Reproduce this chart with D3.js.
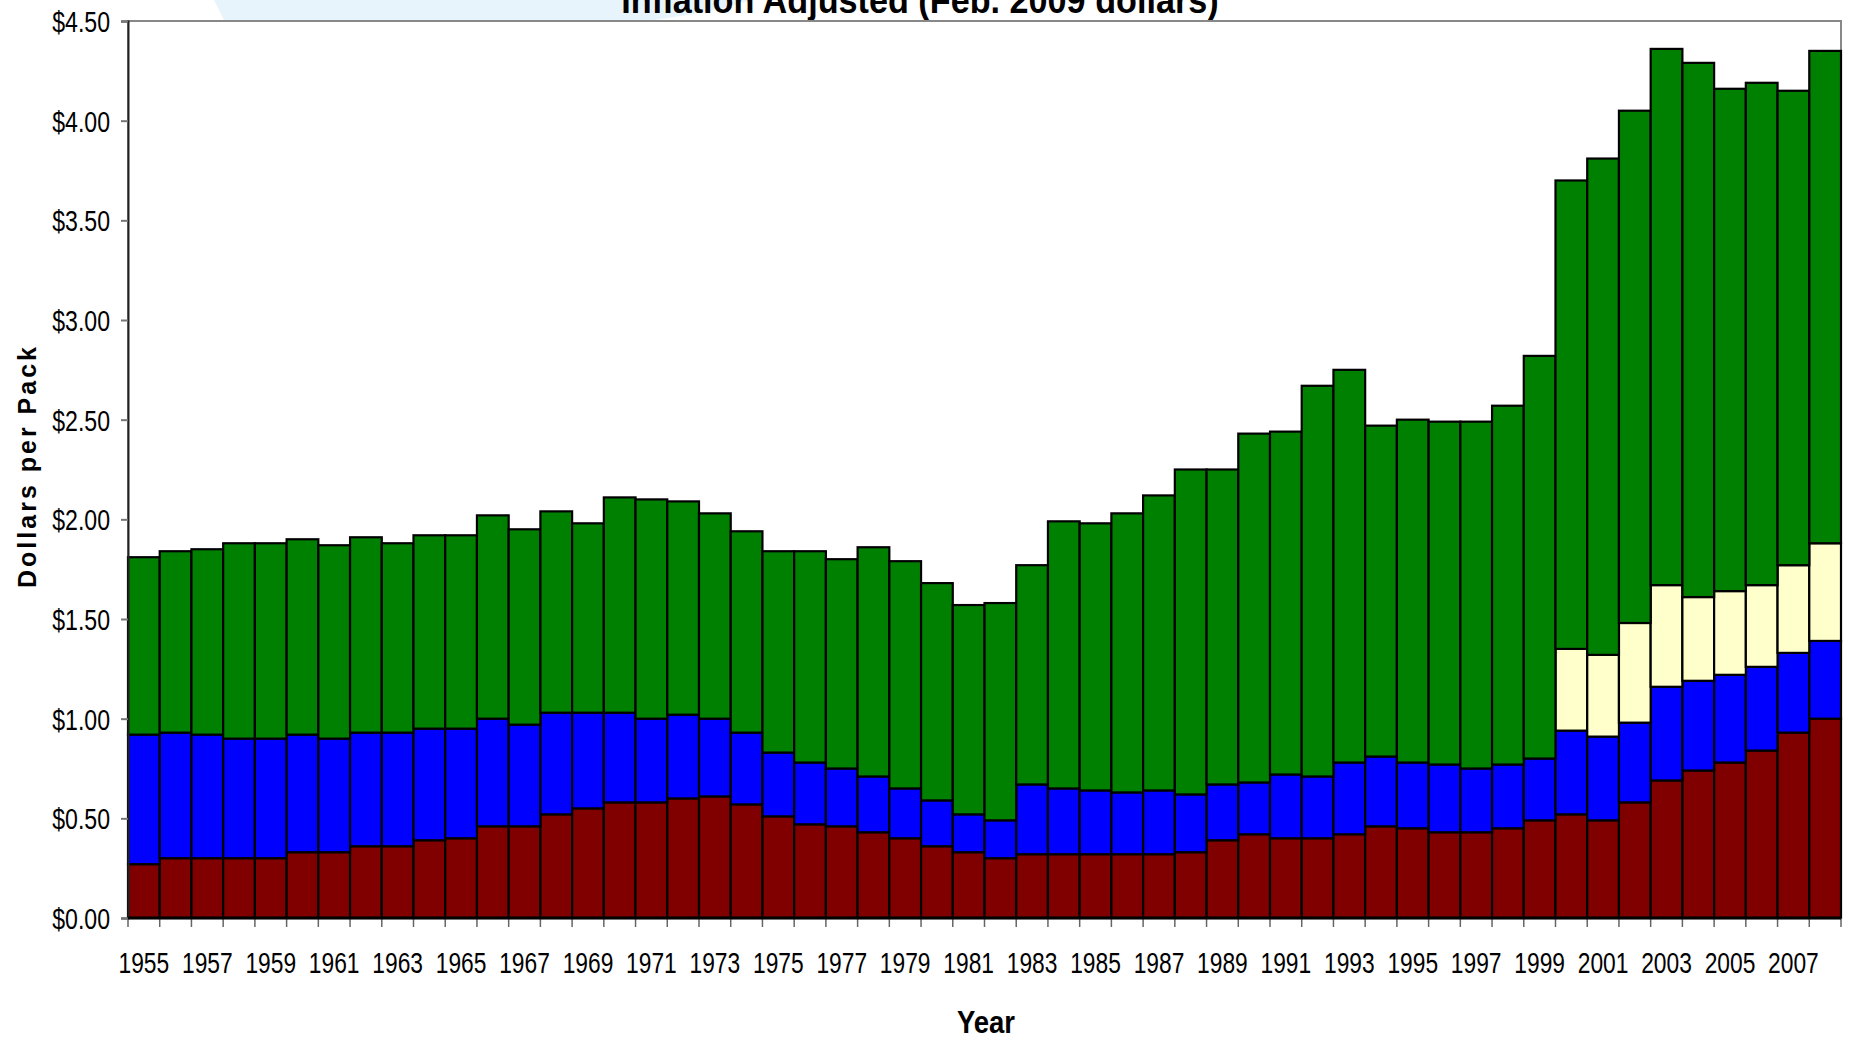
<!DOCTYPE html>
<html>
<head>
  <meta charset="UTF-8">
  <title>Cigarette price per pack</title>
  <style>
    body { margin: 0; background: #fff; }
    svg { display: block; }
    text { font-family: "Liberation Sans", Arial, sans-serif; }
  </style>
</head>
<body>
<svg></svg>
<script src="https://d3js.org/d3.v7.min.js"></script>
<script>
    let width = 1853, height = 1040;

    // years on the x axis
    var years = d3.range(1955, 2009);
    var labelYears = years.filter(function (d) { return d % 2 == 1 && d < 2008; });
    var yTicks = [0, 0.5, 1, 1.5, 2, 2.5, 3, 3.5, 4, 4.5];

    // dollars per pack, Feb. 2009 dollars (bottom to top)
    var stateTax = [0.27, 0.30, 0.30, 0.30, 0.30, 0.33, 0.33, 0.36, 0.36, 0.39,
                    0.40, 0.46, 0.46, 0.52, 0.55, 0.58, 0.58, 0.60, 0.61, 0.57,
                    0.51, 0.47, 0.46, 0.43, 0.40, 0.36, 0.33, 0.30, 0.32, 0.32,
                    0.32, 0.32, 0.32, 0.33, 0.39, 0.42, 0.40, 0.40, 0.42, 0.46,
                    0.45, 0.43, 0.43, 0.45, 0.49, 0.52, 0.49, 0.58, 0.69, 0.74,
                    0.78, 0.84, 0.93, 1.00];
    var federalTax = [0.65, 0.63, 0.62, 0.60, 0.60, 0.59, 0.57, 0.57, 0.57, 0.56,
                      0.55, 0.54, 0.51, 0.51, 0.48, 0.45, 0.42, 0.42, 0.39, 0.36,
                      0.32, 0.31, 0.29, 0.28, 0.25, 0.23, 0.19, 0.19, 0.35, 0.33,
                      0.32, 0.31, 0.32, 0.29, 0.28, 0.26, 0.32, 0.31, 0.36, 0.35,
                      0.33, 0.34, 0.32, 0.32, 0.31, 0.42, 0.42, 0.40, 0.47, 0.45,
                      0.44, 0.42, 0.40, 0.39];
    var msaPayments = [0, 0, 0, 0, 0, 0, 0, 0, 0, 0,
                       0, 0, 0, 0, 0, 0, 0, 0, 0, 0,
                       0, 0, 0, 0, 0, 0, 0, 0, 0, 0,
                       0, 0, 0, 0, 0, 0, 0, 0, 0, 0,
                       0, 0, 0, 0, 0, 0.41, 0.41, 0.50, 0.51, 0.42,
                       0.42, 0.41, 0.44, 0.49];
    var industryPrice = [0.89, 0.91, 0.93, 0.98, 0.98, 0.98, 0.97, 0.98, 0.95, 0.97,
                         0.97, 1.02, 0.98, 1.01, 0.95, 1.08, 1.10, 1.07, 1.03, 1.01,
                         1.01, 1.06, 1.05, 1.15, 1.14, 1.09, 1.05, 1.09, 1.10, 1.34,
                         1.34, 1.40, 1.48, 1.63, 1.58, 1.75, 1.72, 1.96, 1.97, 1.66,
                         1.72, 1.72, 1.74, 1.80, 2.02, 2.35, 2.49, 2.57, 2.69, 2.68,
                         2.52, 2.52, 2.38, 2.47];

    var keys = ["state", "federal", "msa", "industry"];
    var colors = { state: "#800000", federal: "#0000ff", msa: "#ffffcc", industry: "#008000" };

    var table = years.map(function (yr, i) {
        return { year: yr, state: stateTax[i], federal: federalTax[i], msa: msaPayments[i], industry: industryPrice[i] };
    });

    let svg = d3.select("svg")
        .attr("width", width)
        .attr("height", height);

    // plot box (note: "top" is reserved on window, so use other names)
    var plotL = 128, plotR = 1841, plotT = 21, plotB = 918;

    var x = d3.scaleBand().domain(years).range([plotL, plotR]).padding(0);
    var y = d3.scaleLinear().domain([0, 4.5]).range([plotB, plotT]);

    // light blue shape peeking out behind the title
    svg.append("path")
        .attr("d", "M214,0 L226,24 L610,24 C670,20 720,10 752,0 Z")
        .attr("fill", "#e8f4fc");

    // title (cut off at top of picture)
    svg.append("text")
        .attr("transform", "translate(920,13) scale(0.95,1)")
        .attr("text-anchor", "middle")
        .attr("font-size", 36)
        .attr("font-weight", "bold")
        .text("Inflation Adjusted (Feb. 2009 dollars)");

    // plot area
    svg.append("rect")
        .attr("x", plotL).attr("y", plotT)
        .attr("width", plotR - plotL).attr("height", plotB - plotT)
        .attr("fill", "#fff")
        .attr("stroke", "#888")
        .attr("stroke-width", 2);

    // stacked bars
    var series = d3.stack().keys(keys)(table);

    svg.append("g")
        .selectAll("g")
        .data(series)
        .enter().append("g")
        .attr("fill", function (d) { return colors[d.key]; })
        .selectAll("rect")
        .data(function (d) { return d.filter(function (p) { return p[1] - p[0] > 0; }); })
        .enter().append("rect")
        .attr("x", function (d) { return x(d.data.year); })
        .attr("y", function (d) { return y(d[1]); })
        .attr("width", x.bandwidth())
        .attr("height", function (d) { return y(d[0]) - y(d[1]); })
        .attr("stroke", "#000")
        .attr("stroke-width", 2.2);

    // y axis
    var yAxis = svg.append("g")
        .attr("transform", "translate(" + plotL + ",0)")
        .call(d3.axisLeft(y)
            .tickValues(yTicks)
            .tickSize(7)
            .tickFormat(function (d) { return "$" + d.toFixed(2); }));
    yAxis.select(".domain").attr("stroke", "#222").attr("stroke-width", 2);
    yAxis.selectAll(".tick line").attr("stroke", "#777").attr("stroke-width", 2);
    yAxis.selectAll(".tick text")
        .attr("x", null)
        .attr("dy", null)
        .attr("transform", "translate(-18,10.5) scale(0.77,1)")
        .attr("font-size", 30)
        .attr("font-family", null)
        .attr("fill", "#000");

    // x axis: labels every other year
    var xAxis = svg.append("g")
        .attr("transform", "translate(0," + plotB + ")")
        .call(d3.axisBottom(x)
            .tickValues(labelYears)
            .tickSize(0));
    xAxis.select(".domain").remove();
    xAxis.selectAll(".tick text")
        .attr("y", null)
        .attr("dy", null)
        .attr("transform", "translate(0,55) scale(0.76,1)")
        .attr("font-size", 30)
        .attr("font-family", null)
        .attr("fill", "#000");

    // small ticks on every bar edge
    var edges = years.map(function (d) { return x(d); }).concat([plotR]);
    svg.append("g")
        .selectAll("line")
        .data(edges)
        .enter().append("line")
        .attr("x1", function (d) { return d; })
        .attr("x2", function (d) { return d; })
        .attr("y1", plotB)
        .attr("y2", plotB + 9)
        .attr("stroke", "#666")
        .attr("stroke-width", 1.5);

    svg.append("line")
        .attr("x1", plotL).attr("x2", plotR)
        .attr("y1", plotB).attr("y2", plotB)
        .attr("stroke", "#000")
        .attr("stroke-width", 3);

    // axis titles
    svg.append("text")
        .attr("transform", "translate(986,1033) scale(0.86,1)")
        .attr("text-anchor", "middle")
        .attr("font-size", 32)
        .attr("font-weight", "bold")
        .text("Year");

    svg.append("text")
        .attr("transform", "translate(36,466) rotate(-90)")
        .attr("text-anchor", "middle")
        .attr("font-size", 25)
        .attr("font-weight", "bold")
        .attr("letter-spacing", 3)
        .text("Dollars per Pack");
</script>
</body>
</html>
